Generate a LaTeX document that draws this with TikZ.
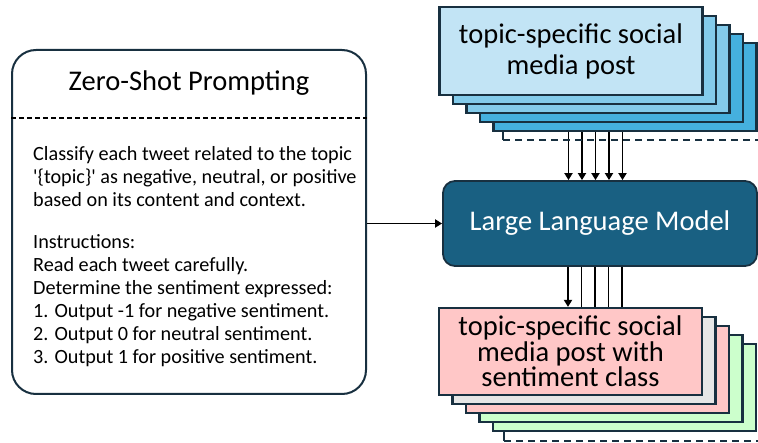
\documentclass[tikz,border=0pt]{standalone}
\usepackage{fontspec}
\setmainfont{Carlito}[Ligatures=TeXOff]
\usetikzlibrary{arrows.meta}
\definecolor{navy}{RGB}{24,48,64}
\definecolor{blueA}{RGB}{194,228,245}
\definecolor{blueB}{RGB}{131,203,235}
\definecolor{blueC}{RGB}{69,176,222}
\definecolor{pinkA}{RGB}{255,199,199}
\definecolor{grayA}{RGB}{230,230,230}
\definecolor{greenA}{RGB}{204,255,204}
\definecolor{llmfill}{RGB}{25,96,130}
\pgfdeclarelayer{bg}
\pgfsetlayers{bg,main}
\tikzset{
  card/.style={draw=navy, line width=2.2pt, minimum width=263pt, inner sep=0pt},
  topcard/.style={card, minimum height=88pt},
  botcard/.style={card, minimum height=87pt},
  arr/.style={line width=1.8pt, -{Triangle[length=7pt,width=8pt]}},
  plain/.style={line width=1.8pt},
  bigtext/.style={font=\fontsize{28.5}{30}\selectfont, align=center},
}
\begin{document}
\begin{tikzpicture}[x=1pt,y=-1pt]
\useasboundingbox (0,0) rectangle (758,443);

% prompt box
\node[draw=navy, line width=2pt, rounded corners=24pt, fill=white,
      minimum width=354pt, minimum height=344pt, inner sep=0pt] (prompt) at (189,222) {};
\node[font=\fontsize{28.5}{30}\selectfont] (title) at (189,83) {Zero-Shot Prompting};
\draw[dashed, dash pattern=on 5pt off 3pt, line width=1.3pt] (prompt.west |- 0,118) coordinate (dl) -- (prompt.east |- dl);
\node[anchor=north west, align=left, inner sep=0pt, font=\fontsize{20.2}{23}\selectfont] (body) at (33,146)
 {Classify each tweet related to the topic\\
  '\{topic\}' as negative, neutral, or positive\\
  based on its content and context.\\[19pt]
  Instructions:\\
  Read each tweet carefully.\\
  Determine the sentiment expressed:\\
  1. Output -1 for negative sentiment.\\
  2. Output 0 for neutral sentiment.\\
  3. Output 1 for positive sentiment.};

% LLM
\node[draw=navy, line width=1.8pt, fill=llmfill, rounded corners=12pt,
      minimum width=314pt, minimum height=85pt, inner sep=0pt,
      text=white, font=\fontsize{28.5}{30}\selectfont] (llm) at (600,223.5) {Large Language Model};

% top stack
\node[topcard, fill=blueC] (T5) at (625,87) {};
\node[topcard, fill=blueC] (T4) at (611.5,78) {};
\node[topcard, fill=blueB] (T3) at (598,69) {};
\node[topcard, fill=blueB] (T2) at (584.5,60) {};
\node[topcard, fill=blueA, bigtext, font=\fontsize{28.5}{31}\selectfont] (T1) at (571,51) {topic-specific social\\media post};
\coordinate (tc) at (503,132);
\draw[navy, line width=2pt] (tc) -- ++(0,8.5) coordinate (td);
\draw[navy, line width=2pt, dash pattern=on 7pt off 5pt] (td) -- (758,140.5);

% bottom stack
\node[botcard, fill=greenA] (B5) at (624.5,387.5) {};
\node[botcard, fill=greenA] (B4) at (611,378.5) {};
\node[botcard, fill=pinkA] (B3) at (597.5,369.5) {};
\node[botcard, fill=grayA] (B2) at (584,360.5) {};
\node[botcard, fill=pinkA, bigtext, font=\fontsize{28.5}{25.5}\selectfont] (B1) at (570.5,351.5) {topic-specific social\\media post with\\sentiment class};
\coordinate (bc) at (504,431);
\draw[navy, line width=2pt] (bc) -- ++(0,10) coordinate (bd);
\draw[navy, line width=2pt, dash pattern=on 7pt off 5pt] (bd) -- (758,441);

% connectors
\begin{pgfonlayer}{bg}
\foreach \n in {T1,T2,T3,T4,T5}{
  \draw[arr] ([xshift=-2.5pt]\n.south) -- ([xshift=-2.5pt]\n.south |- llm.north);
}
\draw[arr] ([xshift=-2.5pt]B1.north |- llm.south) -- ([xshift=-2.5pt]B1.north);
\foreach \n in {B2,B3,B4,B5}{
  \draw[plain] ([xshift=-2.5pt]\n.north |- llm.south) -- ([xshift=-2.5pt]\n.north);
}
\end{pgfonlayer}
\draw[arr] (prompt.east |- llm.west) -- (llm.west);
\end{tikzpicture}
\end{document}
